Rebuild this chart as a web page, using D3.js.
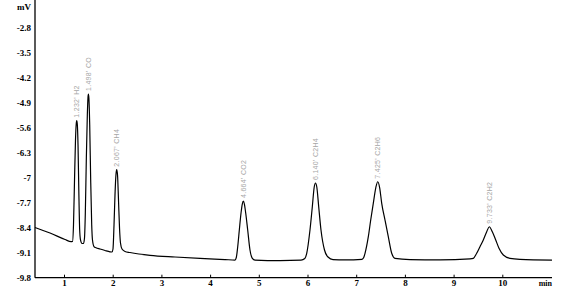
<!DOCTYPE html>
<html>
<head>
<meta charset="utf-8">
<script src="https://cdn.jsdelivr.net/npm/d3@7/dist/d3.min.js"></script>
<style>
  html, body { margin: 0; padding: 0; background: #fff; }
  svg { display: block; }
</style>
</head>
<body>
<svg id="chart" width="585" height="308"></svg>
<script>
// ---- Data ----
const times = [0.405,0.713,1.021,1.144,1.175,1.195,1.216,1.236,1.251,1.261,1.273,1.288,1.304,1.322,1.339,1.370,1.400,1.421,1.437,1.458,1.479,1.493,1.501,1.511,1.528,1.548,1.569,1.585,1.616,1.657,1.739,1.842,1.945,1.986,2.006,2.027,2.047,2.068,2.082,2.099,2.119,2.140,2.160,2.191,2.253,2.355,2.766,3.279,3.793,4.306,4.511,4.538,4.567,4.600,4.635,4.661,4.682,4.704,4.731,4.772,4.819,4.867,4.922,5.435,5.867,5.945,5.984,6.051,6.099,6.138,6.164,6.191,6.230,6.277,6.349,6.421,6.524,6.770,7.119,7.152,7.181,7.249,7.298,7.351,7.403,7.442,7.481,7.524,7.591,7.659,7.729,7.797,8.105,8.721,9.337,9.405,9.474,9.542,9.610,9.680,9.733,9.795,9.865,9.932,10.021,10.158,10.363,11.02];
const signal = [-8.397,-8.551,-8.732,-8.794,-8.788,-8.327,-7.069,-5.951,-5.503,-5.411,-5.503,-6.091,-7.349,-8.467,-8.746,-8.844,-8.844,-8.691,-8.048,-6.510,-5.252,-4.749,-4.665,-4.777,-5.531,-7.069,-8.327,-8.746,-8.928,-8.962,-8.998,-9.040,-9.076,-9.082,-8.998,-8.327,-7.488,-6.901,-6.781,-6.929,-7.628,-8.411,-8.830,-8.998,-9.068,-9.096,-9.174,-9.222,-9.261,-9.292,-9.306,-9.236,-8.934,-8.467,-7.992,-7.740,-7.656,-7.740,-7.992,-8.467,-9.026,-9.258,-9.306,-9.320,-9.311,-9.264,-9.118,-8.467,-7.815,-7.265,-7.153,-7.265,-7.815,-8.467,-9.026,-9.222,-9.292,-9.300,-9.286,-9.244,-9.118,-8.654,-8.187,-7.720,-7.279,-7.117,-7.279,-7.720,-8.187,-8.654,-9.118,-9.258,-9.292,-9.300,-9.272,-9.258,-9.118,-8.934,-8.746,-8.514,-8.375,-8.514,-8.746,-8.978,-9.166,-9.258,-9.286,-9.306];

const peakTimes = [1.232, 1.498, 2.067, 4.664, 6.140, 7.425, 9.733];
const peakNames = ["H2", "CO", "CH4", "CO2", "C2H4", "C2H6", "C2H2"];

const xTicks = [1, 2, 3, 4, 5, 6, 7, 8, 9, 10];
const yTicks = [-2.8, -3.5, -4.2, -4.9, -5.6, -6.3, -7, -7.7, -8.4, -9.1, -9.8];
const xUnit = "min";
const yUnit = "mV";

// ---- Layout ----
const svg = d3.select("#chart");
const axisX0 = 35, axisX1 = 552, axisY = 277.7;

const x = d3.scaleLinear().domain([0, 11]).range([15.3, 551]);
const y = d3.scaleLinear().domain([-9.8, -2.8]).range([277.7, 27.3]);

const tickFont = "'Liberation Serif', 'Times New Roman', serif";

// axis lines
svg.append("line")
  .attr("x1", axisX0).attr("x2", axisX0)
  .attr("y1", 0).attr("y2", axisY)
  .attr("stroke", "#000").attr("stroke-width", 1.3);
svg.append("line")
  .attr("x1", axisX0).attr("x2", axisX1)
  .attr("y1", axisY).attr("y2", axisY)
  .attr("stroke", "#000").attr("stroke-width", 1.3);

// x axis ticks & labels
const gx = svg.append("g")
  .attr("transform", `translate(0,${axisY})`)
  .call(d3.axisBottom(x).tickValues(xTicks).tickFormat(d3.format("d"))
        .tickSizeInner(-3).tickSizeOuter(0).tickPadding(2));
gx.select(".domain").remove();
gx.selectAll("line").attr("stroke", "#000");
gx.selectAll("text")
  .attr("font-family", tickFont).attr("font-weight", "bold")
  .attr("font-size", 9).attr("fill", "#000");

// y axis labels
const gy = svg.append("g")
  .attr("transform", `translate(${axisX0},0)`)
  .call(d3.axisLeft(y).tickValues(yTicks).tickFormat(d => String(d))
        .tickSize(0).tickPadding(4));
gy.select(".domain").remove();
gy.selectAll("text")
  .attr("font-family", tickFont).attr("font-weight", "bold")
  .attr("font-size", 9).attr("fill", "#000");

// unit labels
svg.append("text")
  .attr("x", 31).attr("y", 10)
  .attr("text-anchor", "end")
  .attr("font-family", tickFont).attr("font-weight", "bold")
  .attr("font-size", 9).text(yUnit);
svg.append("text")
  .attr("x", 552).attr("y", 286)
  .attr("text-anchor", "end")
  .attr("font-family", tickFont).attr("font-weight", "bold")
  .attr("font-size", 8).text(xUnit);

// trace
const pts = times.map((t, i) => [t, signal[i]]);
const line = d3.line()
  .x(d => x(d[0])).y(d => y(d[1]))
  .curve(d3.curveMonotoneX);
svg.append("path")
  .datum(pts)
  .attr("d", line)
  .attr("fill", "none")
  .attr("stroke", "#000")
  .attr("stroke-width", 1.2);

// peak labels
peakTimes.forEach((rt, i) => {
  let best = null;
  pts.forEach(p => {
    if (Math.abs(p[0] - rt) < 0.06 && (best === null || p[1] > best[1])) best = p;
  });
  const px = x(best[0]);
  const py = y(best[1]) - 3;
  svg.append("text")
    .attr("transform", `translate(${px},${py}) rotate(-90)`)
    .attr("dy", "0.35em")
    .attr("text-anchor", "start")
    .attr("font-family", "'Liberation Sans', Arial, sans-serif")
    .attr("font-size", 7)
    .attr("letter-spacing", 0.3)
    .attr("fill", "#a6a6a6")
    .text(`${rt.toFixed(3)}'  ${peakNames[i]}`);
});
</script>
</body>
</html>
